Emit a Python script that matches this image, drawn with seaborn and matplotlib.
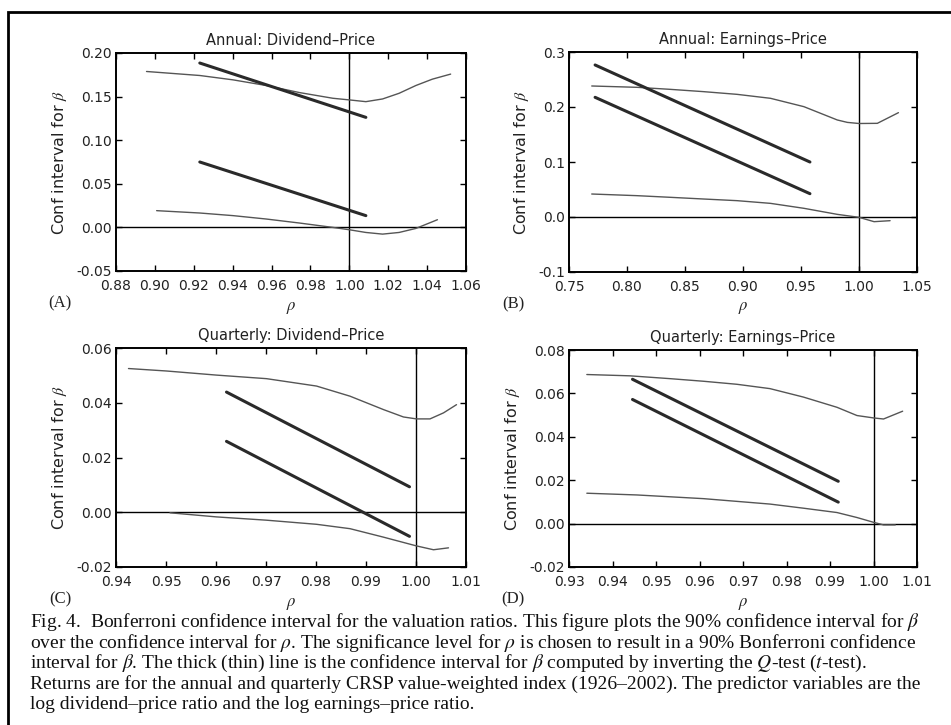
import pandas as pd
import seaborn as sns
import matplotlib.pyplot as plt
from matplotlib.patches import Rectangle

# Panel A: annual dividend-price
a_thin_up_x = [0.8957, 0.9231, 0.9402, 0.9573, 0.9744, 0.9915, 1.0000, 1.0085, 1.0171, 1.0256, 1.0342, 1.0427, 1.0521]
a_thin_up_y = [0.1788, 0.1742, 0.1692, 0.1627, 0.1546, 0.1481, 0.1462, 0.1442, 0.1473, 0.1538, 0.1627, 0.1700, 0.1758]
a_thin_lo_x = [0.9009, 0.9231, 0.9402, 0.9573, 0.9744, 0.9915, 1.0000, 1.0085, 1.0171, 1.0256, 1.0342, 1.0453]
a_thin_lo_y = [0.0192, 0.0165, 0.0135, 0.0096, 0.0050, 0.0000, -0.0027, -0.0058, -0.0077, -0.0058, -0.0012, 0.0088]
a_thick_x = [0.9231, 1.0085]
a_thick_up_y = [0.1885, 0.1262]
a_thick_lo_y = [0.0750, 0.0135]

# Panel B: annual earnings-price
b_thin_up_x = [0.7696, 0.8085, 0.8373, 0.8661, 0.8949, 0.9237, 0.9525, 0.9669, 0.9813, 0.9900, 1.0000, 1.0158, 1.0340]
b_thin_up_y = [0.2382, 0.2358, 0.2321, 0.2279, 0.2230, 0.2158, 0.2006, 0.1885, 0.1764, 0.1720, 0.1700, 0.1703, 0.1897]
b_thin_lo_x = [0.7696, 0.8085, 0.8373, 0.8661, 0.8949, 0.9237, 0.9525, 0.9813, 1.0000, 1.0130, 1.0268]
b_thin_lo_y = [0.0418, 0.0388, 0.0358, 0.0327, 0.0297, 0.0248, 0.0158, 0.0048, -0.0006, -0.0085, -0.0067]
b_thick_x = [0.7725, 0.9577]
b_thick_up_y = [0.2764, 0.1000]
b_thick_lo_y = [0.2176, 0.0424]

# Panel C: quarterly dividend-price
c_thin_up_x = [0.9425, 0.9501, 0.9601, 0.9701, 0.9801, 0.9868, 0.9935, 0.9975, 1.0001, 1.0028, 1.0055, 1.0081]
c_thin_up_y = [0.0525, 0.0516, 0.0501, 0.0488, 0.0461, 0.0424, 0.0375, 0.0348, 0.0341, 0.0341, 0.0363, 0.0393]
c_thin_lo_x = [0.9508, 0.9601, 0.9701, 0.9801, 0.9868, 0.9935, 1.0001, 1.0035, 1.0065]
c_thin_lo_y = [-0.0002, -0.0017, -0.0029, -0.0044, -0.0060, -0.0091, -0.0123, -0.0137, -0.0130]
c_thick_x = [0.9621, 0.9987]
c_thick_up_y = [0.0439, 0.0093]
c_thick_lo_y = [0.0259, -0.0088]

# Panel D: quarterly earnings-price
d_thin_up_x = [0.9341, 0.9440, 0.9532, 0.9609, 0.9686, 0.9762, 0.9839, 0.9916, 0.9962, 1.0000, 1.0023, 1.0067]
d_thin_up_y = [0.0687, 0.0681, 0.0668, 0.0656, 0.0642, 0.0622, 0.0583, 0.0536, 0.0498, 0.0487, 0.0482, 0.0518]
d_thin_lo_x = [0.9341, 0.9456, 0.9609, 0.9762, 0.9839, 0.9916, 0.9962, 1.0000, 1.0023, 1.0050]
d_thin_lo_y = [0.0140, 0.0132, 0.0115, 0.0090, 0.0071, 0.0051, 0.0028, 0.0006, -0.0006, -0.0006]
d_thick_x = [0.9446, 0.9919]
d_thick_up_y = [0.0665, 0.0195]
d_thick_lo_y = [0.0572, 0.0099]

titles = ['Annual: Dividend\u2013Price', 'Annual: Earnings\u2013Price',
          'Quarterly: Dividend\u2013Price', 'Quarterly: Earnings\u2013Price']
letters = ['(A)', '(B)', '(C)', '(D)']

caption = [
    'Fig. 4.  Bonferroni confidence interval for the valuation ratios. This figure plots the 90% confidence interval for $\\beta$',
    'over the confidence interval for $\\rho$. The significance level for $\\rho$ is chosen to result in a 90% Bonferroni confidence',
    'interval for $\\beta$. The thick (thin) line is the confidence interval for $\\beta$ computed by inverting the $Q$-test ($t$-test).',
    'Returns are for the annual and quarterly CRSP value-weighted index (1926\u20132002). The predictor variables are the',
    'log dividend\u2013price ratio and the log earnings\u2013price ratio.',
]

sns.set_theme(style='ticks')
plt.rcParams['font.family'] = ['DejaVu Sans']
plt.rcParams['mathtext.fontset'] = 'stix'

W, H = 951, 725
fig = plt.figure(figsize=(W / 100, H / 100), dpi=100)

# axes boxes in pixels: left, top, right, bottom
boxes = [(116, 53, 466, 271), (569, 52, 917, 272), (116, 348, 466, 567), (569, 350, 917, 567)]
xlims = [(0.88, 1.06), (0.75, 1.05), (0.94, 1.01), (0.93, 1.01)]
ylims = [(-0.05, 0.20), (-0.1, 0.3), (-0.02, 0.06), (-0.02, 0.08)]
xticks = [[0.88 + 0.02 * i for i in range(10)], [0.75 + 0.05 * i for i in range(7)],
          [0.94 + 0.01 * i for i in range(8)], [0.93 + 0.01 * i for i in range(9)]]
yticks = [[-0.05 + 0.05 * i for i in range(6)], [-0.1 + 0.1 * i for i in range(5)],
          [-0.02 + 0.02 * i for i in range(5)], [-0.02 + 0.02 * i for i in range(6)]]
yfmt = ['{:.2f}', '{:.1f}', '{:.2f}', '{:.2f}']

panels = [
    (a_thin_up_x, a_thin_up_y, a_thin_lo_x, a_thin_lo_y, a_thick_x, a_thick_up_y, a_thick_lo_y),
    (b_thin_up_x, b_thin_up_y, b_thin_lo_x, b_thin_lo_y, b_thick_x, b_thick_up_y, b_thick_lo_y),
    (c_thin_up_x, c_thin_up_y, c_thin_lo_x, c_thin_lo_y, c_thick_x, c_thick_up_y, c_thick_lo_y),
    (d_thin_up_x, d_thin_up_y, d_thin_lo_x, d_thin_lo_y, d_thick_x, d_thick_up_y, d_thick_lo_y),
]

for i, p in enumerate(panels):
    l, t, r, b = boxes[i]
    ax = fig.add_axes([l / W, 1 - b / H, (r - l) / W, (b - t) / H])
    tux, tuy, tlx, tly, kx, kuy, kly = p
    ax.axhline(0, color='black', lw=1.0, zorder=1)
    ax.axvline(1.0, color='black', lw=1.0, zorder=1)
    sns.lineplot(x=tux, y=tuy, ax=ax, color='#555555', lw=1.0, sort=False)
    sns.lineplot(x=tlx, y=tly, ax=ax, color='#555555', lw=1.0, sort=False)
    sns.lineplot(x=kx, y=kuy, ax=ax, color='#2a2a2a', lw=2.2, sort=False)
    sns.lineplot(x=kx, y=kly, ax=ax, color='#2a2a2a', lw=2.2, sort=False)
    ax.set_xlim(*xlims[i])
    ax.set_ylim(*ylims[i])
    ax.set_xticks(xticks[i])
    ax.set_xticklabels(['{:.2f}'.format(v) for v in xticks[i]])
    ax.set_yticks(yticks[i])
    ax.set_yticklabels([yfmt[i].format(v + 0.0) for v in yticks[i]])
    ax.tick_params(direction='in', top=True, right=True, length=4, width=1.0,
                   colors='black', labelsize=10, labelcolor='#222222')
    ax.tick_params(axis='x', pad=6)
    ax.tick_params(axis='y', pad=3)
    for s in ax.spines.values():
        s.set_linewidth(1.4)
        s.set_color('black')
    ax.set_title(titles[i], fontsize=10.5, color='#222222', pad=6)
    ax.set_xlabel('$\\rho$', fontsize=12, labelpad=3, color='#222222')
    ax.set_ylabel('Conf interval for $\\beta$', fontsize=11.5, labelpad=5, color='#222222')
    fig.text((l - 56) / W, 1 - (b + 32) / H, letters[i], fontsize=12,
             family='Liberation Serif', ha='center', va='center', color='#222222')

# caption
for k, line in enumerate(caption):
    fig.text(30 / W, 1 - (622 + 20.7 * k) / H, line, fontsize=14,
             family='Liberation Serif', ha='left', va='center', color='#111111')

# outer frame of the scanned figure
fig.add_artist(Rectangle((8 / W, -0.1), 1.2, 1.1 - 12 / H, transform=fig.transFigure,
                         fill=False, edgecolor='black', lw=2.0))

fig.savefig('out.png', dpi=100)
